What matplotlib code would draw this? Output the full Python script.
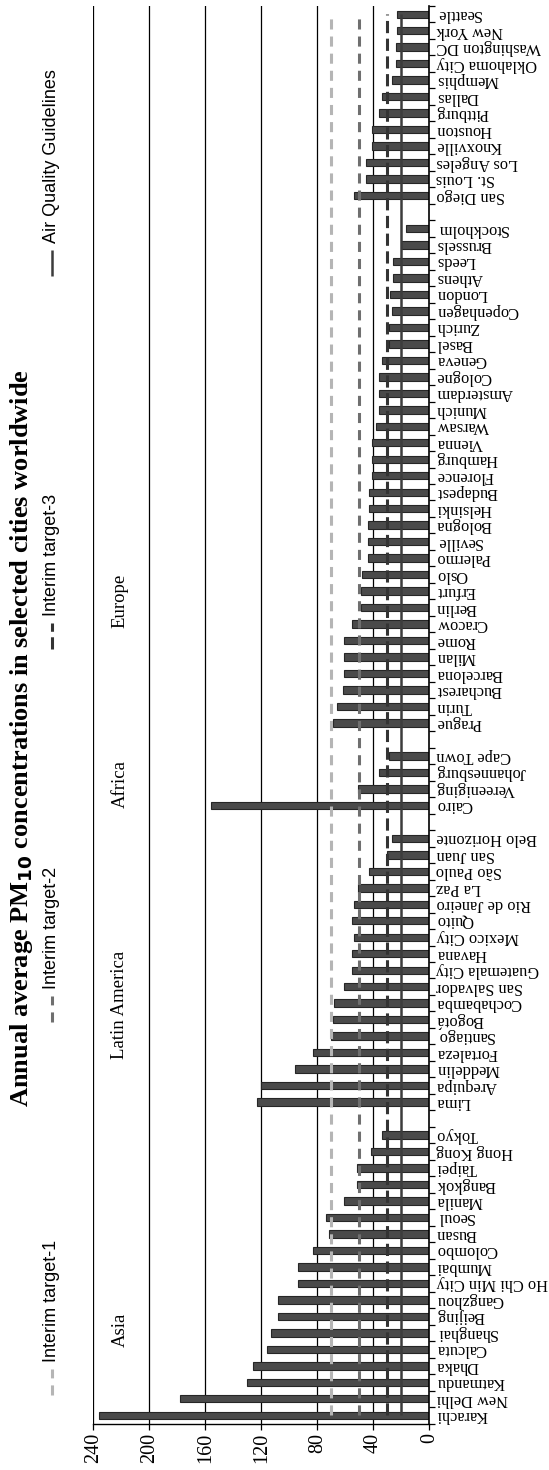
import matplotlib.pyplot as plt
import numpy as np
from matplotlib.lines import Line2D

# Annual mean PM10 (ug/m3) by city, grouped by region
asia_cities = ["Karachi", "New Delhi", "Katmandu", "Dhaka", "Calcuta", "Shanghai", "Beijing",
               "Gangzhou", "Ho Chi Min City", "Mumbai", "Colombo", "Busan", "Seoul", "Manila",
               "Bangkok", "Taipei", "Hong Kong", "Tokyo"]
asia_pm10 = [236, 178, 130, 126, 116, 113, 108, 108, 94, 94, 83, 72, 74, 61, 52, 52, 42, 34]

latam_cities = ["Lima", "Arequipa", "Meddelin", "Fortaleza", "Santiago", "Bogotá", "Cochabamba",
                "San Salvador", "Guatemala City", "Havana", "Mexico City", "Quito",
                "Rio de Janeiro", "La Paz", "São Paulo", "San Juan", "Belo Horizonte"]
latam_pm10 = [123, 120, 96, 83, 70, 69, 68, 61, 55, 55, 54, 55, 54, 51, 43, 30, 27]

africa_cities = ["Cairo", "Vereeniging", "Johannesburg", "Cape Town"]
africa_pm10 = [156, 51, 36, 29]

europe_cities = ["Prague", "Turin", "Bucharest", "Barcelona", "Milan", "Rome", "Cracow", "Berlin",
                 "Erfurt", "Oslo", "Palermo", "Seville", "Bologna", "Helsinki", "Budapest",
                 "Florence", "Hamburg", "Vienna", "Warsaw", "Munich", "Amsterdam", "Cologne",
                 "Geneva", "Basel", "Zurich", "Copenhagen", "London", "Athens", "Leeds",
                 "Brussels", "Stockholm"]
europe_pm10 = [69, 66, 62, 61, 61, 61, 55, 49, 49, 48, 44, 44, 44, 43, 43, 41, 41, 41, 38, 36,
               36, 36, 34, 29, 29, 27, 28, 26, 26, 20, 17]

namerica_cities = ["San Diego", "St. Louis", "Los Angeles", "Knoxville", "Houston", "Pittburg",
                   "Dallas", "Memphis", "Oklahoma City", "Washington DC", "New York", "Seattle"]
namerica_pm10 = [54, 45, 45, 41, 41, 36, 34, 27, 24, 24, 23, 23]

region_names = ["Asia", "Latin America", "Africa", "Europe"]

# WHO guideline levels
guide_labels = ["Interim target-1", "Interim target-2", "Interim target-3", "Air Quality Guidelines"]
guide_values = [70, 50, 30, 20]

value_ticks = [0, 40, 80, 120, 160, 200, 240]

# lay the groups out one after another with an empty slot between regions
groups = [(asia_cities, asia_pm10), (latam_cities, latam_pm10), (africa_cities, africa_pm10),
          (europe_cities, europe_pm10), (namerica_cities, namerica_pm10)]
cities, values, pos = [], [], []
slot = 0
for names, vals in groups:
    for n, v in zip(names, vals):
        cities.append(n)
        values.append(v)
        pos.append(slot)
        slot += 1
    slot += 1
n_slots = slot - 1
pos = np.array(pos)

W, H = 549, 1470
fig = plt.figure(figsize=(W / 100, H / 100), dpi=100)
ax = fig.add_axes([93.3 / W, 1 - 1423.5 / H, 336 / W, 1417.5 / H])

serif = ["Liberation Serif", "DejaVu Serif"]
sans = ["Liberation Sans", "DejaVu Sans"]

for v in value_ticks[1:]:
    ax.axvline(v, color="black", lw=0.9, zorder=1)

ax.barh(pos, values, height=0.45, color="#4a4a4a", edgecolor="#262626", lw=0.8, zorder=2)

guide_styles = [
    dict(color="#b5b5b5", lw=2.2, dashes=(3.3, 2.3)),
    dict(color="#6f6f6f", lw=2.2, dashes=(3.3, 2.3)),
    dict(color="#333333", lw=2.2, dashes=(4.0, 1.8)),
    dict(color="#3c3c3c", lw=1.8),
]
for v, st in zip(guide_values, guide_styles):
    ax.plot([v, v], [pos[0], pos[-1]], zorder=3, solid_capstyle="butt", **st)

ax.set_xlim(240, 0)
ax.set_ylim(-0.5, n_slots - 0.5)

ax.set_xticks(value_ticks)
ax.set_xticklabels([str(t) for t in value_ticks], rotation=90, family=serif, fontsize=14.5)
ax.tick_params(axis="x", direction="out", length=4, width=0.9, pad=3)

ax.yaxis.tick_right()
ax.set_yticks(pos)
ax.set_yticklabels(cities, rotation=180, family=serif, fontsize=11.8, va="center")
ax.set_yticks(np.arange(-0.5, n_slots), minor=True)
ax.tick_params(axis="y", which="major", length=0, pad=5)
ax.tick_params(axis="y", which="minor", direction="out", length=4, width=0.9)

for s in ["top", "left"]:
    ax.spines[s].set_visible(False)
ax.spines["right"].set_linewidth(1.2)
ax.spines["bottom"].set_linewidth(1.0)

# region captions
region_slots = [5.2, 24.9, 38.3, 49.4]
for name, ys in zip(region_names, region_slots):
    ax.text(221, ys, name, rotation=90, ha="center", va="center", family=serif, fontsize=13.5)

fig.text(22 / W, 1 - 738 / H, r"Annual average PM$_{\mathbf{10}}$ concentrations in selected cities worldwide",
         rotation=90, ha="center", va="center", family=serif, fontsize=19, fontweight="bold")

# legend drawn as a vertical strip, entries evenly spaced
leg_x = 52 / W
leg_starts = [1395, 1022, 649, 276]
for lab, st, y0 in zip(guide_labels, guide_styles, leg_starts):
    ln = Line2D([leg_x, leg_x], [1 - y0 / H, 1 - (y0 - 26) / H], transform=fig.transFigure,
                solid_capstyle="butt", **st)
    fig.add_artist(ln)
    fig.text(leg_x, 1 - (y0 - 33) / H, lab, rotation=90, ha="center", va="bottom",
             family=sans, fontsize=13)

fig.savefig("out.png", dpi=100)
